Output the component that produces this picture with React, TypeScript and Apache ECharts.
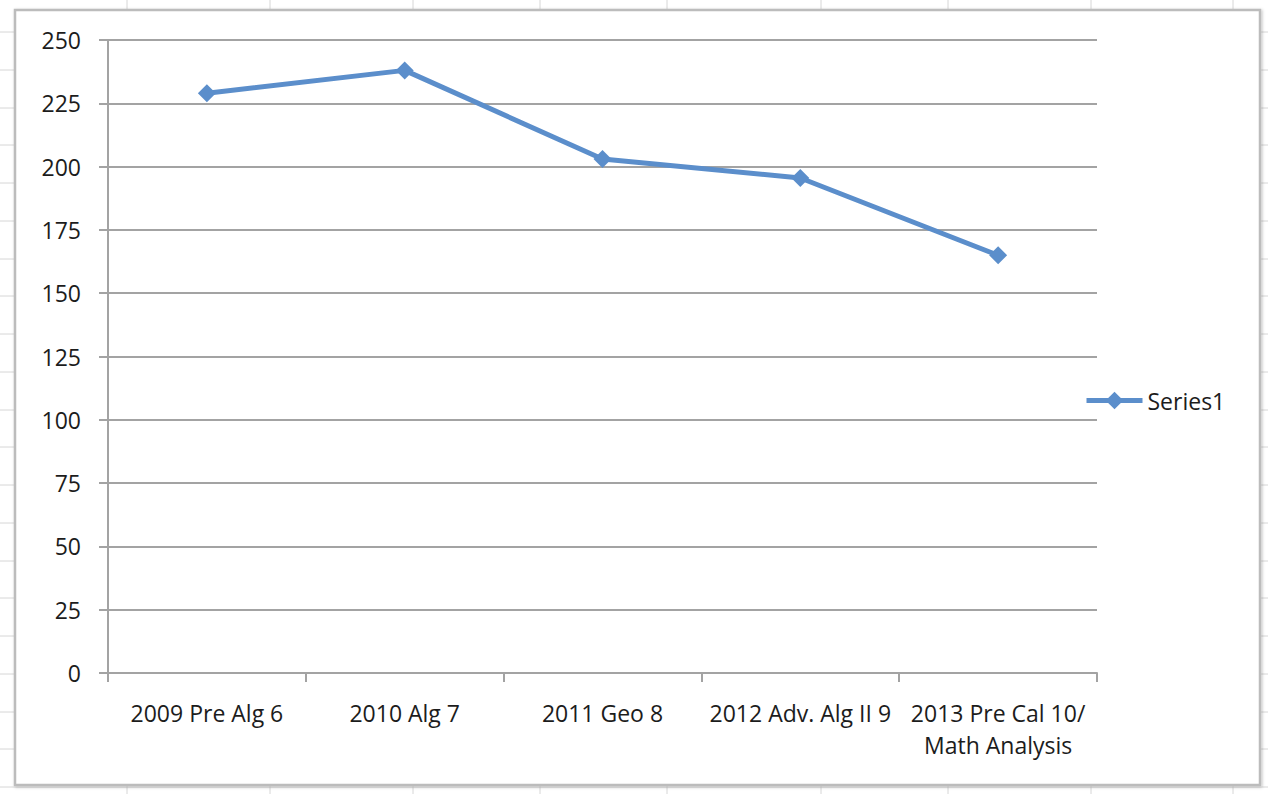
import React, { useEffect, useRef } from "react";
import * as echarts from "echarts";

const categories = [
  "2009 Pre Alg 6",
  "2010 Alg 7",
  "2011 Geo 8",
  "2012 Adv. Alg II 9",
  "2013 Pre Cal 10/\nMath Analysis",
];
const series1 = [229, 238, 203, 195.5, 165];
const seriesName = "Series1";

const FONT = "'Open Sans', 'Noto Sans', sans-serif";
const TEXT = "#1c1c1c";
const GRID_GRAY = "#a3a3a3";
const BLUE = "#5b8ecb";

export default function App() {
  const ref = useRef<HTMLDivElement>(null);

  useEffect(() => {
    if (!ref.current) return;
    const chart = echarts.init(ref.current, null, { renderer: "svg" });

    // spreadsheet background lines (decoration)
    const bg: any[] = [];
    const cols = [127, 270, 413, 540, 667, 821, 948, 1091, 1233];
    cols.forEach((x) =>
      bg.push({
        type: "line",
        z: -10,
        shape: { x1: x, y1: 0, x2: x, y2: 794 },
        style: { stroke: "#d6d6d6", lineWidth: 1 },
        silent: true,
      })
    );
    for (let k = 0; k <= 20; k++) {
      const y = Math.round(32 + 37.75 * k);
      bg.push({
        type: "line",
        z: -10,
        shape: { x1: 0, y1: y, x2: 1268, y2: y },
        style: { stroke: "#d6d6d6", lineWidth: 1 },
        silent: true,
      });
    }
    bg.push({
      type: "rect",
      z: -5,
      shape: { x: 15, y: 10, width: 1245, height: 775 },
      style: {
        fill: "#ffffff",
        stroke: "#bcbcbc",
        lineWidth: 2.5,
        shadowBlur: 3,
        shadowColor: "rgba(0,0,0,0.25)",
        shadowOffsetX: 1,
        shadowOffsetY: 1,
      },
      silent: true,
    });

    chart.setOption({
      animation: false,
      backgroundColor: "#ffffff",
      graphic: { elements: bg },
      grid: { left: 108, right: 171, top: 40, bottom: 121, containLabel: false },
      legend: {
        data: [seriesName],
        orient: "vertical",
        left: 1079,
        top: 384,
        itemWidth: 56,
        itemHeight: 22,
        lineStyle: { width: 5 },
        textStyle: { fontSize: 23, fontFamily: FONT, color: TEXT },
      },
      xAxis: {
        type: "category",
        data: categories,
        boundaryGap: true,
        axisLine: { show: true, lineStyle: { color: GRID_GRAY, width: 2 } },
        axisTick: { show: true, length: 9, lineStyle: { color: GRID_GRAY, width: 2 } },
        axisLabel: {
          interval: 0,
          margin: 24,
          fontSize: 23,
          lineHeight: 32,
          fontFamily: FONT,
          color: TEXT,
        },
      },
      yAxis: {
        type: "value",
        min: 0,
        max: 250,
        interval: 25,
        axisLine: { show: true, lineStyle: { color: GRID_GRAY, width: 2 } },
        axisTick: { show: true, length: 9, lineStyle: { color: GRID_GRAY, width: 2 } },
        splitLine: { show: true, lineStyle: { color: GRID_GRAY, width: 2 } },
        axisLabel: { margin: 27, fontSize: 23, fontFamily: FONT, color: TEXT },
      },
      series: [
        {
          name: seriesName,
          type: "line",
          data: series1,
          symbol: "diamond",
          symbolSize: 18,
          lineStyle: { color: BLUE, width: 5 },
          itemStyle: { color: BLUE },
        },
      ],
    });

    return () => chart.dispose();
  }, []);

  return (
    <div
      ref={ref}
      style={{ position: "absolute", left: 0, top: 0, width: 1268, height: 794 }}
    />
  );
}
